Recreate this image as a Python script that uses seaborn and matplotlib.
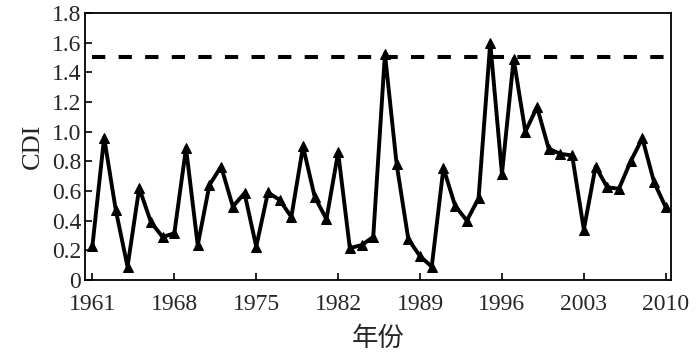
import numpy as np
import pandas as pd
import matplotlib
matplotlib.use("Agg")
import matplotlib.pyplot as plt
import seaborn as sns

# CDI values, one per year
years = list(range(1961, 2011))
cdi = [0.23, 0.96, 0.47, 0.09, 0.62, 0.39, 0.29, 0.315, 0.89, 0.235,
       0.64, 0.765, 0.495, 0.585, 0.225, 0.59, 0.54, 0.425, 0.90, 0.56,
       0.41, 0.86, 0.215, 0.235, 0.29, 1.525, 0.78, 0.275, 0.16, 0.09,
       0.755, 0.50, 0.40, 0.55, 1.60, 0.715, 1.49, 1.00, 1.165, 0.885,
       0.85, 0.84, 0.34, 0.765, 0.625, 0.615, 0.80, 0.955, 0.66, 0.49]
threshold = 1.5
xticks = [1961, 1968, 1975, 1982, 1989, 1996, 2003, 2010]
yticks = [0, 0.2, 0.4, 0.6, 0.8, 1.0, 1.2, 1.4, 1.6, 1.8]
ytick_labels = ["0", "0.2", "0.4", "0.6", "0.8", "1.0", "1.2", "1.4", "1.6", "1.8"]

df = pd.DataFrame({"year": years, "CDI": cdi})

sns.set_style("ticks")
plt.rcParams["font.family"] = ["Liberation Serif", "DejaVu Serif"]
plt.rcParams["xtick.direction"] = "in"
plt.rcParams["ytick.direction"] = "in"

fig = plt.figure(figsize=(7, 3.61), dpi=100)
ax = fig.add_axes([0.122, 0.2244, 0.8366, 0.7396])

sns.lineplot(data=df, x="year", y="CDI", ax=ax, color="black", linewidth=2.8,
             marker="^", markersize=7, markeredgecolor="black")
ax.plot([years[0], years[-1]], [threshold, threshold], color="black",
        linewidth=2.9, linestyle=(0, (3.3, 3.3)), dash_capstyle="butt")

ax.set_xlim(1960.4, 2010.45)
ax.set_ylim(0, 1.8)
ax.set_xticks(xticks)
ax.set_xticklabels([str(x) for x in xticks])
ax.set_yticks(yticks)
ax.set_yticklabels(ytick_labels)
ax.tick_params(axis="both", labelsize=17, length=5, width=1.2, color="black",
               top=False, right=False)
ax.tick_params(axis="x", pad=10)
ax.tick_params(axis="y", pad=3)

for s in ax.spines.values():
    s.set_visible(True)
    s.set_linewidth(1.3)
    s.set_color("black")

ax.set_ylabel("CDI", fontsize=19, labelpad=6)
ax.set_xlabel("年份", fontsize=19, family=["Noto Sans CJK SC", "DejaVu Sans"], labelpad=7)

fig.savefig("out.png", dpi=100)
